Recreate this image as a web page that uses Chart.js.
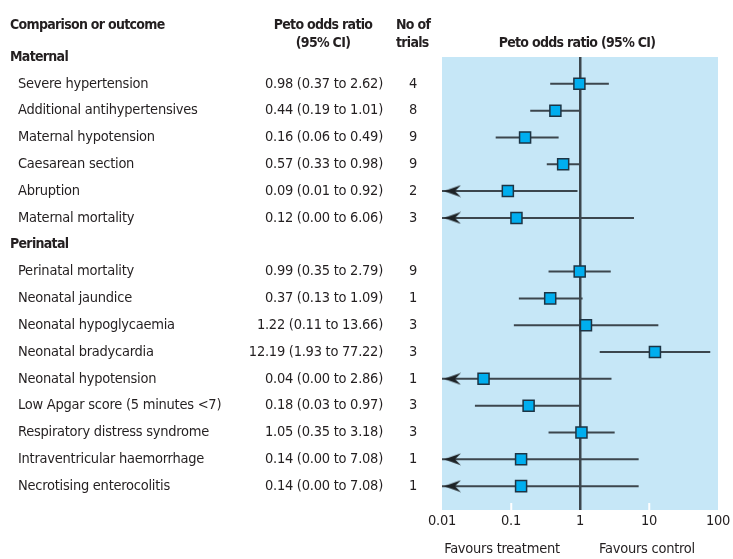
<!DOCTYPE html>
<html>
<head>
<meta charset="utf-8">
<script src="https://cdn.jsdelivr.net/npm/chart.js@4.4.1/dist/chart.umd.min.js"></script>
<style>
  html, body { margin: 0; padding: 0; background: #ffffff; }
  #wrap { width: 733px; height: 559px; position: relative; }
</style>
</head>
<body>
<div id="wrap"><canvas id="c" width="733" height="559"></canvas></div>
<script>
// ---------------- DATA ----------------
const sectionHeaders = ['Maternal', 'Perinatal'];
const outcomes = [
  'Severe hypertension', 'Additional antihypertensives', 'Maternal hypotension',
  'Caesarean section', 'Abruption', 'Maternal mortality',
  'Perinatal mortality', 'Neonatal jaundice', 'Neonatal hypoglycaemia',
  'Neonatal bradycardia', 'Neonatal hypotension', 'Low Apgar score (5 minutes <7)',
  'Respiratory distress syndrome', 'Intraventricular haemorrhage', 'Necrotising enterocolitis'
];
const outcomeSection = [0, 0, 0, 0, 0, 0, 1, 1, 1, 1, 1, 1, 1, 1, 1];
const oddsRatio = [0.98, 0.44, 0.16, 0.57, 0.09, 0.12, 0.99, 0.37, 1.22, 12.19, 0.04, 0.18, 1.05, 0.14, 0.14];
const ciLower   = [0.37, 0.19, 0.06, 0.33, 0.01, 0.00, 0.35, 0.13, 0.11, 1.93, 0.00, 0.03, 0.35, 0.00, 0.00];
const ciUpper   = [2.62, 1.01, 0.49, 0.98, 0.92, 6.06, 2.79, 1.09, 13.66, 77.22, 2.86, 0.97, 3.18, 7.08, 7.08];
const nTrials   = [4, 8, 9, 9, 2, 3, 9, 1, 3, 3, 1, 3, 3, 1, 1];
const xTickValues = [0.01, 0.1, 1, 10, 100];
const xTickLabels = ['0.01', '0.1', '1', '10', '100'];

// ---------------- STYLE ----------------
const FONT = "'Liberation Sans Narrow','DejaVu Sans Condensed','DejaVu Sans',sans-serif";
const TXT = '#231f20';
const PANEL_BG = '#c6e7f7';
const LINE_COL = '#3c464d';
const MARK_FILL = '#00aeef';
const MARK_EDGE = '#1d3444';
const FS = 14.5, LS = -0.25;     // regular text size / letter spacing
const FSB = 14, LSB = -0.7;      // bold text size / letter spacing
const X_MIN = xTickValues[0], X_MAX = xTickValues[xTickValues.length - 1];

// ---------------- ROW LAYOUT (built from data) ----------------
const rowLabels = [], rowIsHeader = [], rowOR = [], rowN = [], outcomeRow = [];
sectionHeaders.forEach((h, s) => {
  rowLabels.push(h); rowIsHeader.push(true); rowOR.push(''); rowN.push('');
  outcomes.forEach((o, i) => {
    if (outcomeSection[i] !== s) return;
    outcomeRow[i] = rowLabels.length;
    rowLabels.push(o); rowIsHeader.push(false);
    rowOR.push(oddsRatio[i].toFixed(2) + ' (' + ciLower[i].toFixed(2) + ' to ' + ciUpper[i].toFixed(2) + ')');
    rowN.push(String(nTrials[i]));
  });
});
const rowIdx = rowLabels.map((_, i) => i);
const Y_MAX = rowLabels.length - 1 + 0.89;

// arrow head drawn into a small canvas; tip at the canvas centre
function makeArrow() {
  const cv = document.createElement('canvas');
  cv.width = 44; cv.height = 13;
  const g = cv.getContext('2d');
  g.fillStyle = '#1e2326';
  g.beginPath();
  g.moveTo(24, 6.5);
  g.lineTo(41, 0.5);
  g.lineTo(35, 6.5);
  g.lineTo(41, 12.5);
  g.closePath();
  g.fill();
  return cv;
}
const arrowCanvas = makeArrow();

// condensed look: draw a scale's labels with tighter letter spacing
function withSpacing(ls) {
  return s => {
    if (s._lsWrapped) return;
    const orig = s.draw;
    s.draw = function (area) {
      const c = this.ctx;
      const prev = c.letterSpacing;
      c.letterSpacing = ls + 'px';
      orig.call(this, area);
      c.letterSpacing = prev;
    };
    s._lsWrapped = true;
  };
}

// ---------------- DATASETS ----------------
const datasets = [];
outcomes.forEach((o, i) => {
  const clipped = ciLower[i] <= X_MIN;
  datasets.push({
    type: 'line',
    label: o + ' CI',
    data: [{x: Math.max(ciLower[i], X_MIN), y: outcomeRow[i]}, {x: ciUpper[i], y: outcomeRow[i]}],
    borderColor: LINE_COL,
    borderWidth: 2,
    showLine: true,
    fill: false,
    pointRadius: ctx => (clipped && ctx.dataIndex === 0) ? 8 : 0,
    pointStyle: ctx => (clipped && ctx.dataIndex === 0) ? arrowCanvas : 'circle',
    order: 2,
    yAxisID: 'yItems'
  });
});
datasets.push({
  type: 'scatter',
  label: 'Peto odds ratio',
  data: outcomes.map((o, i) => ({x: oddsRatio[i], y: outcomeRow[i]})),
  pointStyle: 'rect',
  pointRadius: 7.8,
  backgroundColor: MARK_FILL,
  borderColor: MARK_EDGE,
  borderWidth: 1.5,
  order: 0,
  yAxisID: 'yItems'
});

// ---------------- PLUGINS ----------------
const panelBg = {
  id: 'panelBg',
  beforeDraw(chart) {
    const {ctx, chartArea: a} = chart;
    ctx.save();
    ctx.fillStyle = PANEL_BG;
    ctx.fillRect(a.left, a.top, a.right - a.left, a.bottom - a.top);
    ctx.restore();
  }
};
const headerText = {
  id: 'headerText',
  afterDraw(chart) {
    const {ctx, chartArea: a} = chart;
    const x = chart.scales.x;
    ctx.save();
    ctx.fillStyle = TXT;
    ctx.textBaseline = 'middle';
    ctx.font = 'bold ' + FSB + 'px ' + FONT;
    ctx.letterSpacing = LSB + 'px';
    ctx.textAlign = 'left';
    ctx.fillText('Comparison or outcome', 10, 25);
    ctx.textAlign = 'center';
    ctx.fillText('Peto odds ratio', 323, 25);
    ctx.fillText('(95% CI)', 323, 43);
    ctx.textAlign = 'left';
    ctx.fillText('No of', 396, 25);
    ctx.fillText('trials', 396, 43);
    ctx.textAlign = 'center';
    ctx.fillText('Peto odds ratio (95% CI)', (a.left + a.right) / 2 - 3, 43);
    ctx.font = FS + 'px ' + FONT;
    ctx.letterSpacing = LS + 'px';
    ctx.fillText('Favours treatment', x.getPixelForValue(0.1) - 9, 549);
    ctx.fillText('Favours control', x.getPixelForValue(10) - 2, 549);
    ctx.restore();
  }
};

function yAxis(weight, width, labelFn, font, ls, crossAlign, padding, mirror) {
  return {
    type: 'linear', position: 'left', weight: weight,
    min: 0, max: Y_MAX, reverse: true,
    grid: {display: false, drawTicks: false}, border: {display: false},
    afterBuildTicks: s => { s.ticks = rowIdx.map(v => ({value: v})); },
    afterFit: s => { s.width = width; },
    afterUpdate: withSpacing(ls),
    ticks: {
      autoSkip: false, crossAlign: crossAlign, padding: padding, color: TXT,
      mirror: !!mirror, font: font,
      callback: (v, i) => labelFn(i)
    }
  };
}

new Chart(document.getElementById('c'), {
  type: 'scatter',
  data: {datasets: datasets},
  options: {
    responsive: false,
    animation: false,
    devicePixelRatio: 1,
    layout: {padding: {left: 0, right: 15, top: 57, bottom: 0}},
    plugins: {legend: {display: false}, tooltip: {enabled: false}, title: {display: false}},
    scales: {
      x: {
        type: 'logarithmic', position: 'bottom', min: X_MIN, max: X_MAX,
        afterBuildTicks: s => { s.ticks = xTickValues.map(v => ({value: v})); },
        afterFit: s => { s.height = 49; s.paddingLeft = 0; s.paddingRight = 0; },
        afterUpdate: withSpacing(LS),
        border: {display: false},
        grid: {
          drawOnChartArea: true, drawTicks: true, tickLength: -7,
          color: ctx => (ctx.tick && ctx.tick.value === 1) ? LINE_COL : 'rgba(0,0,0,0)',
          lineWidth: 2.5,
          tickColor: ctx => (ctx.tick && (ctx.tick.value === 0.1 || ctx.tick.value === 10)) ? '#ffffff' : 'rgba(0,0,0,0)',
          tickWidth: 2
        },
        ticks: {
          padding: 10, color: TXT, font: {family: FONT, size: FS},
          autoSkip: false, maxRotation: 0,
          callback: (v, i) => xTickLabels[i]
        }
      },
      yHead: yAxis(4, 18, i => rowIsHeader[i] ? rowLabels[i] : '', {family: FONT, size: FSB, weight: 'bold'}, LSB, 'near', -8, true),
      yItems: yAxis(3, 217, i => rowIsHeader[i] ? '' : rowLabels[i], {family: FONT, size: FS}, LS, 'far', 0),
      yOR: yAxis(2, 148, i => rowOR[i], {family: FONT, size: FS}, LS, 'near', 0),
      yN: yAxis(1, 59, i => rowN[i], {family: FONT, size: FS}, LS, 'near', 25)
    }
  },
  plugins: [panelBg, headerText]
});
</script>
</body>
</html>
